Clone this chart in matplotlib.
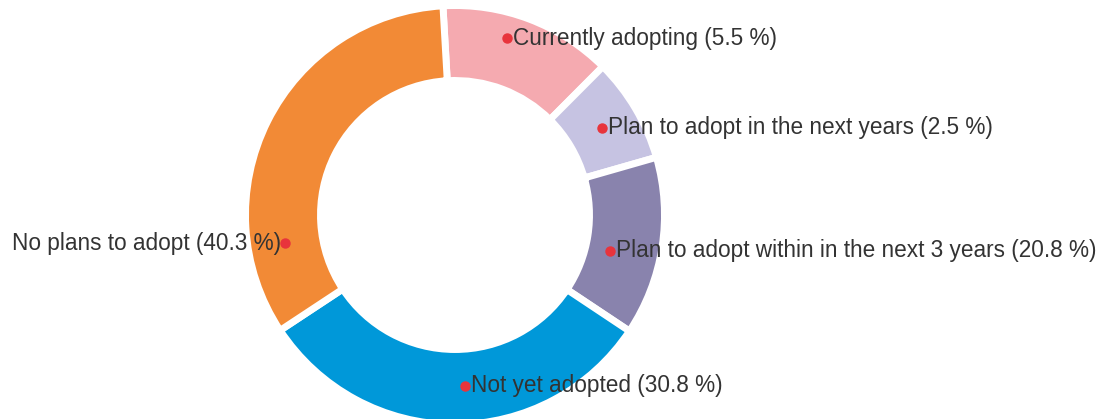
import matplotlib
matplotlib.use("Agg")
import numpy as np
from matplotlib import pyplot as plt

# categories, clockwise from the top
labels = ["Currently adopting", "Plan to adopt in the next years",
          "Plan to adopt within in the next 3 years", "Not yet adopted",
          "No plans to adopt"]
# percentages printed in the labels
label_pct = [5.5, 2.5, 20.8, 30.8, 40.3]
# slice sizes as drawn (share of the ring)
slice_share = [13.4, 8.1, 13.8, 31.4, 33.4]
colors = ["#F5AAB0", "#C6C3E2", "#8983AD", "#0098D9", "#F28A36"]

# where the red dot of each label sits (angle in degrees, radius in px)
dot_angle = [73.6, 30.6, -13.0, -86.7, 189.5]
dot_radius = [184, 171, 159, 171, 172]
label_side = ["right", "right", "right", "right", "left"]

plt.rcParams['font.family'] = ['Liberation Sans', 'DejaVu Sans']

fig = plt.figure(figsize=(10.99, 4.19), dpi=100)
ax = fig.add_axes([0, 0, 1, 1])

R = 206 + 3.5
ax.pie(slice_share, colors=colors, startangle=93.3, counterclock=False,
       radius=R, center=(0, 0),
       wedgeprops=dict(width=75, edgecolor="white", linewidth=5))

for i in range(len(labels)):
    a = np.radians(dot_angle[i])
    x = dot_radius[i] * np.cos(a)
    y = dot_radius[i] * np.sin(a)
    ax.plot(x, y, "o", color="#E8343C", markersize=6.5, zorder=5)
    txt = "%s (%.1f %%)" % (labels[i], label_pct[i])
    if label_side[i] == "right":
        ax.text(x + 6, y, txt, ha="left", va="center", fontsize=16.3,
                color="#333333", zorder=6)
    else:
        ax.text(x - 4, y, txt, ha="right", va="center", fontsize=16.3,
                color="#333333", zorder=6)

ax.set_xlim(-455, 1099 - 455)
ax.set_ylim(-(419 - 215), 215)
ax.set_aspect("equal")
ax.axis("off")

fig.savefig("out.png", dpi=100)
